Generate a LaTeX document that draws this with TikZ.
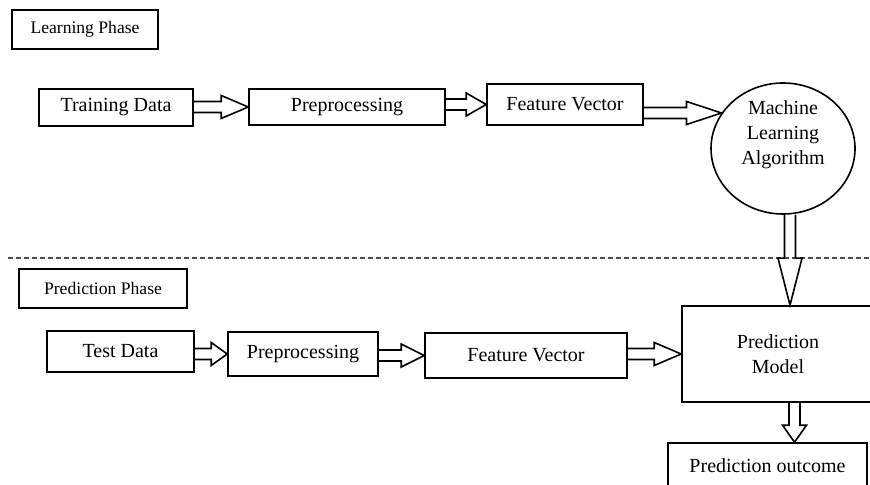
\documentclass[tikz,border=0pt]{standalone}
\usepackage{fontspec}
\setmainfont{Liberation Serif}
\usetikzlibrary{calc,shapes.geometric}
\newcommand{\phasefont}[0]{\fontsize{8.8}{10}\selectfont}
\newcommand{\boxfont}[0]{\fontsize{10}{12.5}\selectfont}
\newcommand{\harrow}[3]{\draw[blk] ($(#1 |- #2)+(0,-5.5)$) -- ($(#2)+(-#3,-5.5)$)
	-- ($(#2)+(-#3,-11.5)$) -- (#2) -- ($(#2)+(-#3,11.5)$) -- ($(#2)+(-#3,5.5)$) -- ($(#1 |- #2)+(0,5.5)$)}
\newcommand{\varrow}[3]{\draw[blk] ($(#1)+(-5.5,0)$) -- ($(#2)+(-5.5,-#3)$)
	-- ($(#2)+(-12,-#3)$) -- (#2) -- ($(#2)+(12,-#3)$) -- ($(#2)+(5.5,-#3)$) -- ($(#1)+(5.5,0)$)}
\tikzset{box/.style={draw, line width=0.8pt, font=\boxfont, align=center},
	phase/.style={box, font=\phasefont},
	blk/.style={line width=0.8pt, line join=miter}}

\begin{document}
\begin{tikzpicture}[x=0.5pt, y=-0.5pt]
	\clip (0,0) rectangle (870,485);
%The learning phase
	\node[phase, minimum width=73pt, minimum height=19.5pt] (lp) at (85,29.5) {Learning Phase};
	\node[box, minimum width=77pt, minimum height=18.5pt] (td) at (116,107.5) {Training Data};
	\node[box, minimum width=98pt, minimum height=18pt] (pp1) at (347,107) {Preprocessing};
	\node[box, minimum width=78pt, minimum height=20.5pt] (fv1) at (565,104.5) {Feature Vector};
	\node[box, ellipse, inner sep=-2pt, text depth=16pt, minimum width=72pt, minimum height=65.5pt] (ml)
		at (783,148.5) {Machine\\Learning\\Algorithm};
%The separation
	\draw[line width=1pt, gray!60!black, dash pattern=on 2.5pt off 1.5pt] (8,258) -- (870,258);
%The prediction phase
	\node[phase, minimum width=84pt, minimum height=19.5pt] (pph) at (103,288.5) {Prediction Phase};
	\node[box, minimum width=73.5pt, minimum height=20.5pt] (tsd) at (120.5,351.5) {Test Data};
	\node[box, minimum width=75pt, minimum height=22pt] (pp2) at (303,354) {Preprocessing};
	\node[box, minimum width=101pt, minimum height=22.5pt] (fv2) at (526,355.5) {Feature Vector};
	\node[box, minimum width=96pt, minimum height=48pt] (pm) at (778,354) {Prediction\\Model};
	\node[box, minimum width=99.5pt, minimum height=23pt] (po) at (767.5,466) {Prediction outcome};
	\coordinate (mlin) at ($(pm.north)+(12,0)$);
	\coordinate (poin) at ($(po.north)+(27,0)$);
%The arrows
	\harrow{td.east}{pp1.west}{27};
	\harrow{pp1.east}{fv1.west}{20};
	\harrow{fv1.east}{ml.150}{35};
	\varrow{mlin |- ml.south}{mlin}{47};
	\harrow{tsd.east}{pp2.west}{16};
	\harrow{pp2.east}{fv2.west}{23};
	\harrow{fv2.east}{pm.west}{27};
	\varrow{poin |- pm.south}{poin}{17};
\end{tikzpicture}
\end{document}
